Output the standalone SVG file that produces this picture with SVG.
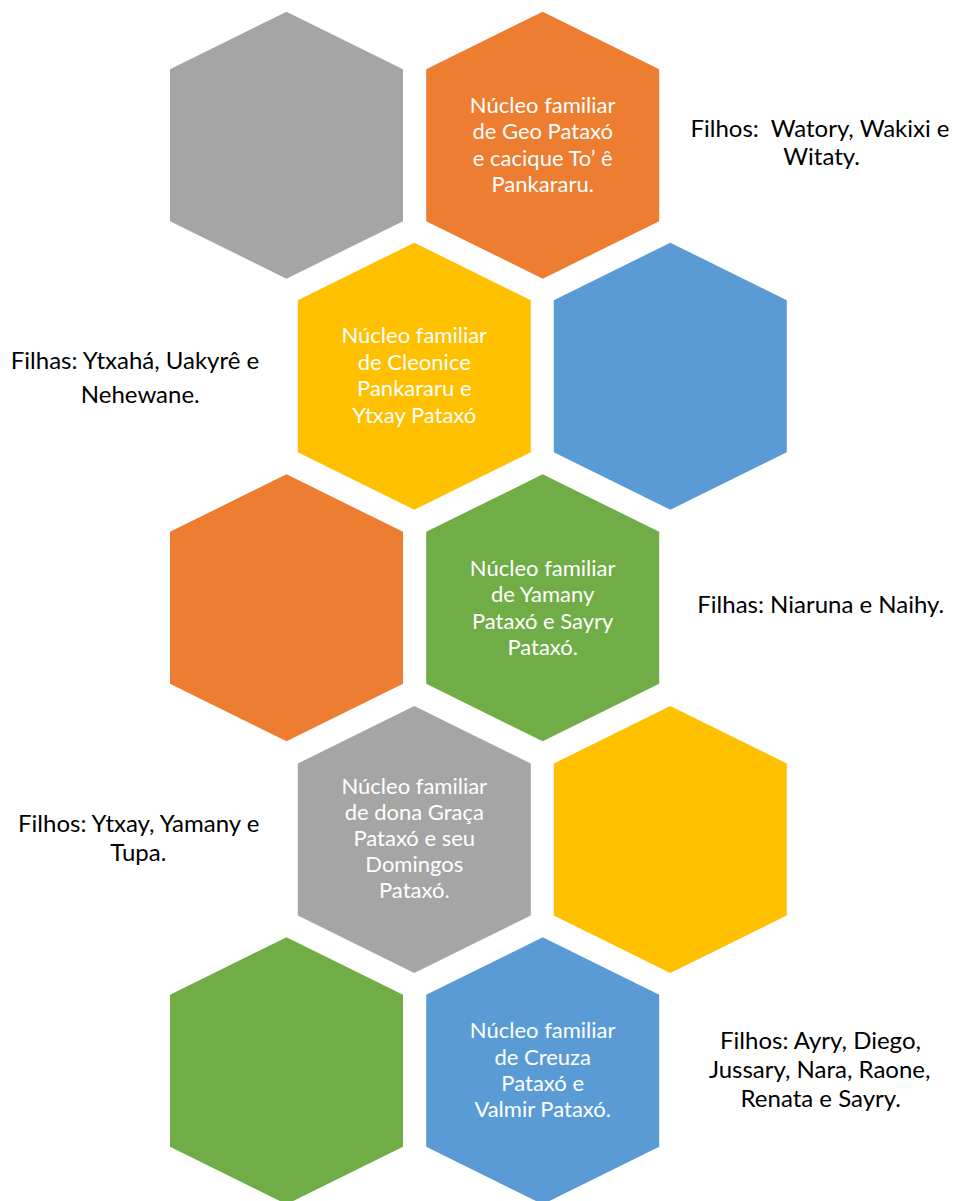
<svg xmlns="http://www.w3.org/2000/svg" width="957" height="1201" viewBox="0 0 957 1201">
<style>
.gray{fill:#A5A5A5}.orange{fill:#ED7D31}.yellow{fill:#FFC000}.blue{fill:#5B9BD5}.green{fill:#70AD47}
.ht{font-family:Lato,"Liberation Sans",sans-serif;font-size:22px;fill:#FFFFFF;text-anchor:middle}
.st{font-family:Lato,"Liberation Sans",sans-serif;font-size:24px;fill:#000000;text-anchor:middle;white-space:pre}
</style>
<rect width="957" height="1201" fill="#FFFFFF"/>
<g id="hex1"><polygon class="gray" points="286.5,11.7 403,69.2 403,221.2 286.5,278.7 170,221.2 170,69.2"/></g>
<g id="hex2"><polygon class="orange" points="542.7,11.7 659.2,69.2 659.2,221.2 542.7,278.7 426.2,221.2 426.2,69.2"/>
<text class="ht"><tspan x="542.7" y="113.3">Núcleo familiar</tspan><tspan x="542.7" y="139.4">de Geo Pataxó</tspan><tspan x="542.7" y="165.5">e cacique To’ ê</tspan><tspan x="542.7" y="191.6">Pankararu.</tspan></text></g>
<g id="hex3"><polygon class="yellow" points="414.3,242.7 530.8,300.2 530.8,452.2 414.3,509.7 297.8,452.2 297.8,300.2"/>
<text class="ht"><tspan x="414.3" y="343.3">Núcleo familiar</tspan><tspan x="414.3" y="369.7">de Cleonice</tspan><tspan x="414.3" y="396.2">Pankararu e</tspan><tspan x="414.3" y="422.7">Ytxay Pataxó</tspan></text></g>
<g id="hex4"><polygon class="blue" points="670.3,242.7 786.8,300.2 786.8,452.2 670.3,509.7 553.8,452.2 553.8,300.2"/></g>
<g id="hex5"><polygon class="orange" points="286.5,474.3 403,531.8 403,683.8 286.5,741.3 170,683.8 170,531.8"/></g>
<g id="hex6"><polygon class="green" points="542.7,474.3 659.2,531.8 659.2,683.8 542.7,741.3 426.2,683.8 426.2,531.8"/>
<text class="ht"><tspan x="542.7" y="576">Núcleo familiar</tspan><tspan x="542.7" y="602.3">de Yamany</tspan><tspan x="542.7" y="628.7">Pataxó e Sayry</tspan><tspan x="542.7" y="655">Pataxó.</tspan></text></g>
<g id="hex7"><polygon class="gray" points="414.3,706 530.8,763.5 530.8,915.5 414.3,973 297.8,915.5 297.8,763.5"/>
<text class="ht"><tspan x="414.3" y="794">Núcleo familiar</tspan><tspan x="414.3" y="820.1">de dona Graça</tspan><tspan x="414.3" y="846.2">Pataxó e seu</tspan><tspan x="414.3" y="872.2">Domingos</tspan><tspan x="414.3" y="898.3">Pataxó.</tspan></text></g>
<g id="hex8"><polygon class="yellow" points="670.3,706 786.8,763.5 786.8,915.5 670.3,973 553.8,915.5 553.8,763.5"/></g>
<g id="hex9"><polygon class="green" points="286.5,937.3 403,994.8 403,1146.8 286.5,1204.3 170,1146.8 170,994.8"/></g>
<g id="hex10"><polygon class="blue" points="542.7,937.3 659.2,994.8 659.2,1146.8 542.7,1204.3 426.2,1146.8 426.2,994.8"/>
<text class="ht"><tspan x="542.7" y="1038.3">Núcleo familiar</tspan><tspan x="542.7" y="1064.6">de Creuza</tspan><tspan x="542.7" y="1091">Pataxó e</tspan><tspan x="542.7" y="1117.3">Valmir Pataxó.</tspan></text></g>
<g id="label1"><text class="st"><tspan x="820" y="136.7">Filhos:  Watory, Wakixi e</tspan><tspan x="821.7" y="165">Witaty.</tspan></text></g>
<g id="label2"><text class="st"><tspan x="135" y="369.3">Filhas: Ytxahá, Uakyrê e</tspan><tspan x="140.3" y="402.5">Nehewane.</tspan></text></g>
<g id="label3"><text class="st"><tspan x="820.8" y="613.3">Filhas: Niaruna e Naihy.</tspan></text></g>
<g id="label4"><text class="st"><tspan x="138.7" y="831.7">Filhos: Ytxay, Yamany e</tspan><tspan x="138.3" y="860.7">Tupa.</tspan></text></g>
<g id="label5"><text class="st"><tspan x="820.5" y="1049.3">Filhos: Ayry, Diego,</tspan><tspan x="819.7" y="1078.3">Jussary, Nara, Raone,</tspan><tspan x="820.8" y="1106.7">Renata e Sayry.</tspan></text></g>
</svg>
